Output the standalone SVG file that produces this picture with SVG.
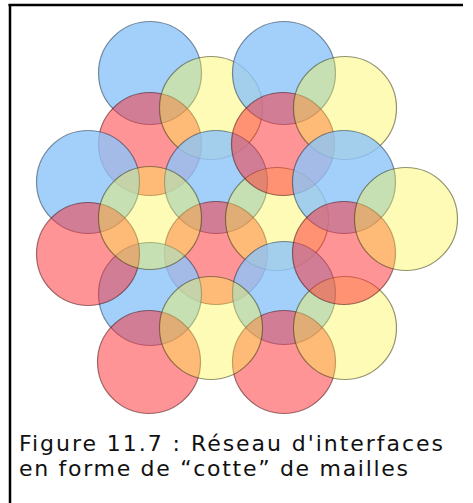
<svg xmlns="http://www.w3.org/2000/svg" width="473" height="503" viewBox="0 0 473 503">
<style>
.b{fill:#8cc4fa;fill-opacity:0.8;stroke:#1f3550;stroke-opacity:0.55;stroke-width:1.2}
.r{fill:#ff2a30;fill-opacity:0.5;stroke:#4a1010;stroke-opacity:0.55;stroke-width:1.2}
.y{fill:#faf548;fill-opacity:0.4;stroke:#3a3a10;stroke-opacity:0.55;stroke-width:1.2}
.cap{font-family:"DejaVu Sans","Liberation Sans",sans-serif;font-size:22px;fill:#111}
</style>
<rect width="473" height="503" fill="#fff"/>
<g id="frame" fill="none" stroke="#000" stroke-width="2.5">
<line x1="8.5" y1="5" x2="463" y2="5"/>
<line x1="10" y1="4" x2="10" y2="503"/>
</g>
<g id="rings">
<circle id="B1" class="b" cx="150" cy="73" r="51.5"/>
<circle id="R1" class="r" cx="150" cy="144" r="51.5"/>
<circle id="Y1" class="y" cx="211" cy="108" r="51.5"/>
<circle id="B2" class="b" cx="284" cy="73" r="51.5"/>
<circle id="B3" class="b" cx="88" cy="182" r="51.5"/>
<circle id="B4" class="b" cx="216" cy="182" r="51.5"/>
<circle id="R4" class="r" cx="216" cy="253" r="51.5"/>
<circle id="Y4" class="y" cx="277" cy="219" r="51.5"/>
<circle id="R2" class="r" cx="283" cy="144" r="51.5"/>
<circle id="Y2" class="y" cx="345" cy="108" r="51.5"/>
<circle id="B5" class="b" cx="344" cy="182" r="51.5"/>
<circle id="B6" class="b" cx="150" cy="294" r="51.5"/>
<circle id="R3" class="r" cx="88" cy="254" r="51.5"/>
<circle id="Y3" class="y" cx="150" cy="218" r="51.5"/>
<circle id="B7" class="b" cx="284" cy="293" r="51.5"/>
<circle id="R7" class="r" cx="284" cy="362" r="51.5"/>
<circle id="Y7" class="y" cx="345" cy="328" r="51.5"/>
<circle id="R5" class="r" cx="344" cy="253" r="51.5"/>
<circle id="Y5" class="y" cx="406" cy="219" r="51.5"/>
<circle id="R6" class="r" cx="149" cy="362" r="51.5"/>
<circle id="Y6" class="y" cx="211" cy="328" r="51.5"/>
</g>
<g id="caption">
<text class="cap" x="19" y="451" textLength="424" lengthAdjust="spacing">Figure 11.7 : Réseau d'interfaces</text>
<text class="cap" x="19" y="476" textLength="389" lengthAdjust="spacing">en forme de “cotte” de mailles</text>
</g>
</svg>
